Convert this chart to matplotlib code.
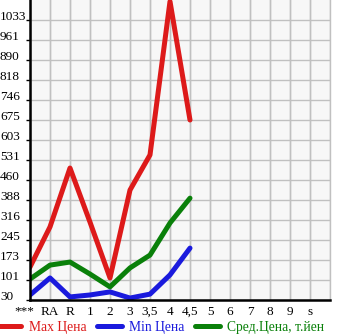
import matplotlib
matplotlib.use("Agg")
import matplotlib.pyplot as plt
import matplotlib.transforms as mtransforms
import numpy as np

categories = ["***", "RA", "R", "1", "2", "3", "3,5", "4", "4,5", "5", "6", "7", "8", "9", "s"]
max_price = [148, 292, 503, 309, 109, 424, 550, 1100, 675]
min_price = [48, 109, 41, 48, 59, 37, 51, 120, 216]
avg_price = [105, 155, 166, 123, 77, 145, 191, 306, 395]
ytick_labels = ["30", "101", "173", "245", "316", "388", "460", "531", "603",
                "675", "746", "818", "890", "961", "1033"]

plt.rcParams['font.family'] = ['Liberation Serif', 'DejaVu Serif']

fig = plt.figure(figsize=(3.45, 3.35), dpi=100)
ax = fig.add_axes([30/345, 35/335, 300/345, 300/335])
ax.set_facecolor("#f7f7f7")

step = (1033.4 - 30) / 14
yticks = [30 + i * step for i in range(len(ytick_labels))]
ax.set_ylim(30, 30 + 15 * step)
ax.set_xlim(0, 15)

x = np.arange(len(max_price))
ax.plot(x, max_price, color="#dd1a1a", lw=3.6, solid_capstyle="round", solid_joinstyle="round", label="Max Цена", zorder=3)
ax.plot(x, min_price, color="#1a1add", lw=3.6, solid_capstyle="round", solid_joinstyle="round", label="Min Цена", zorder=3)
ax.plot(x, avg_price, color="#0a800a", lw=3.6, solid_capstyle="round", solid_joinstyle="round", label="Сред.Цена, т.йен", zorder=3)

ax.set_xticks(np.arange(len(categories)))
ax.set_xticklabels(categories, fontsize=9.5)
ax.tick_params(axis="x", length=0, pad=4)
xoff = mtransforms.ScaledTranslation(-4/72, 0, fig.dpi_scale_trans)
first = ax.get_xticklabels()[0]
first.set_transform(first.get_transform() + xoff)

ax.set_yticks(yticks)
ax.set_yticklabels(ytick_labels, fontsize=9.5)
ax.tick_params(axis="y", length=3, width=1, direction="out", pad=18.6)
offset = mtransforms.ScaledTranslation(0, 3/72, fig.dpi_scale_trans)
for lab in ax.get_yticklabels():
    lab.set_ha("left")
    lab.set_transform(lab.get_transform() + offset)

ax.grid(True, color="#c0c0c0", lw=1)
ax.set_axisbelow(True)
for xv in range(len(categories) + 1):
    ax.axvline(xv, color="#c0c0c0", lw=1, zorder=1)

ax.spines["top"].set_visible(False)
ax.spines["right"].set_color("#c0c0c0")
ax.spines["right"].set_linewidth(1)
ax.spines["left"].set_linewidth(1.8)
ax.spines["bottom"].set_linewidth(1.8)
ax.spines["left"].set_zorder(4)
ax.spines["bottom"].set_zorder(4)

leg = fig.legend(loc="center left", bbox_to_anchor=(-0.01, 8/335), ncol=3, frameon=False,
                 fontsize=9.8, handlelength=1.8, handletextpad=0.55, columnspacing=0.8,
                 borderaxespad=0, borderpad=0)
for t, c in zip(leg.get_texts(), ["#dd1a1a", "#1a1add", "#0a800a"]):
    t.set_color(c)

fig.savefig("out.png", dpi=100)
